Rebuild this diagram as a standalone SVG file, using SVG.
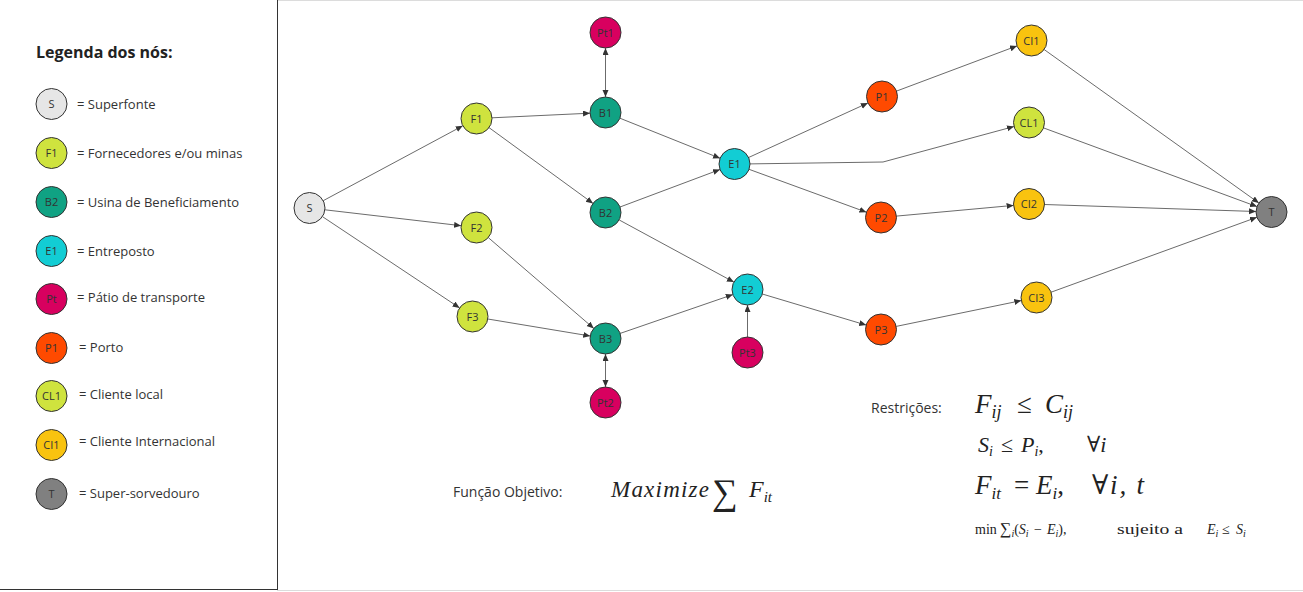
<svg xmlns="http://www.w3.org/2000/svg" width="1303" height="592" viewBox="0 0 1303 592">
<defs>
<marker id="arr" markerUnits="userSpaceOnUse" markerWidth="8" markerHeight="7" refX="7" refY="3" orient="auto-start-reverse">
<path d="M0,0 L7,3 L0,6 z" fill="#333"/>
</marker>
<style>
.n{stroke:#333;stroke-width:1}
.lb{font-family:"Open Sans","Liberation Sans",sans-serif;font-size:11px;fill:#333;text-anchor:middle}
.lg{font-family:"Open Sans","Liberation Sans",sans-serif;font-size:13px;fill:#333}
.e{fill:none;stroke:#6b6b6b;stroke-width:1;marker-end:url(#arr)}
.d{marker-start:url(#arr)}
.s{fill:#e6e6e6}.f{fill:#cfe33e}.b{fill:#10a283}.en{fill:#12cdd4}.pt{fill:#d8005f}.p{fill:#ff4a00}.ci{fill:#f9c30f}.t{fill:#808080}
.m{font-family:"Liberation Serif","DejaVu Serif",serif;font-style:italic;fill:#222}
.mr{font-family:"Liberation Serif","DejaVu Serif",serif;font-style:normal;fill:#222}
.tx{font-family:"Open Sans","Liberation Sans",sans-serif;font-size:14px;fill:#333}
</style>
</defs>
<rect width="1303" height="592" fill="#fff"/>
<line x1="277" y1="0.5" x2="1303" y2="0.5" stroke="#dcdcdc"/>
<line x1="277" y1="590.5" x2="1303" y2="590.5" stroke="#dcdcdc"/>
<line x1="277.5" y1="0" x2="277.5" y2="590" stroke="#333"/>
<line x1="0" y1="589.5" x2="277.5" y2="589.5" stroke="#333"/>

<g id="legend">
<text x="36" y="58" font-family="'Open Sans','Liberation Sans',sans-serif" font-size="16" font-weight="bold" fill="#222">Legenda dos nós:</text>
<g id="lg-S"><circle class="n s" cx="51.5" cy="104" r="15.5"/><text class="lb" x="51.5" y="108">S</text><text class="lg" x="77" y="108.5">= Superfonte</text></g>
<g id="lg-F"><circle class="n f" cx="51.5" cy="153" r="15.5"/><text class="lb" x="51.5" y="157">F1</text><text class="lg" x="77" y="157.5">= Fornecedores e/ou minas</text></g>
<g id="lg-B"><circle class="n b" cx="51.5" cy="202" r="15.5"/><text class="lb" x="51.5" y="206">B2</text><text class="lg" x="77" y="206.5">= Usina de Beneficiamento</text></g>
<g id="lg-E"><circle class="n en" cx="51.5" cy="251" r="15.5"/><text class="lb" x="51.5" y="255">E1</text><text class="lg" x="77" y="255.5">= Entreposto</text></g>
<g id="lg-Pt"><circle class="n pt" cx="51.5" cy="299" r="15.5"/><text class="lb" x="51.5" y="303" font-size="10">Pt</text><text class="lg" x="77" y="301.5">= Pátio de transporte</text></g>
<g id="lg-P"><circle class="n p" cx="51.5" cy="348" r="15.5"/><text class="lb" x="51.5" y="352">P1</text><text class="lg" x="79" y="352">= Porto</text></g>
<g id="lg-CL"><circle class="n f" cx="51.5" cy="396" r="15.5"/><text class="lb" x="51.5" y="400">CL1</text><text class="lg" x="79" y="398.5">= Cliente local</text></g>
<g id="lg-CI"><circle class="n ci" cx="51.5" cy="445" r="15.5"/><text class="lb" x="51.5" y="449">CI1</text><text class="lg" x="79" y="446">= Cliente Internacional</text></g>
<g id="lg-T"><circle class="n t" cx="51.5" cy="494" r="15.5"/><text class="lb" x="51.5" y="498">T</text><text class="lg" x="79" y="498">= Super-sorvedouro</text></g>
</g>

<g id="connectors">
<line class="e" x1="323.2" y1="200.7" x2="462.8" y2="125.8"/>
<line class="e" x1="324.9" y1="209.8" x2="461.1" y2="225.7"/>
<line class="e" x1="322.4" y1="216.6" x2="459.6" y2="307.9"/>
<line class="e" x1="492" y1="117.8" x2="590" y2="113.2"/>
<line class="e" x1="489" y1="127.6" x2="593" y2="203.4"/>
<line class="e" x1="488.3" y1="237.6" x2="593.8" y2="328.4"/>
<line class="e" x1="487.8" y1="319" x2="590.2" y2="336"/>
<line class="e d" x1="605.5" y1="48" x2="605.5" y2="97"/>
<line class="e d" x1="605.5" y1="354" x2="605.5" y2="387"/>
<line class="e" x1="619.9" y1="118.2" x2="720.1" y2="158.3"/>
<line class="e" x1="620" y1="207" x2="720" y2="169.5"/>
<line class="e" x1="619.1" y1="219.9" x2="733.9" y2="282.1"/>
<line class="e" x1="620.2" y1="333.4" x2="732.8" y2="294.6"/>
<line class="e" x1="747.5" y1="337" x2="747.5" y2="305"/>
<line class="e" x1="748.6" y1="157.5" x2="867.9" y2="103"/>
<polyline class="e" points="750,163.9 883,162 1014,126.5"/>
<line class="e" x1="749" y1="169.3" x2="866.4" y2="212.2"/>
<line class="e" x1="762.3" y1="294" x2="866.2" y2="325.1"/>
<line class="e" x1="896.5" y1="91.1" x2="1017" y2="45.9"/>
<line class="e" x1="896.4" y1="216.1" x2="1013.6" y2="205.4"/>
<line class="e" x1="896.2" y1="326.4" x2="1021.3" y2="300.6"/>
<line class="e" x1="1044.1" y1="49.5" x2="1258.9" y2="203"/>
<line class="e" x1="1043.5" y1="127.9" x2="1257" y2="206.6"/>
<line class="e" x1="1044.5" y1="204.5" x2="1256" y2="211.5"/>
<line class="e" x1="1051.1" y1="292.2" x2="1256.9" y2="217.3"/>
</g>

<g id="S"><circle class="n s" cx="309.5" cy="208" r="15.5"/><text class="lb" x="309.5" y="212">S</text></g>
<g id="F1"><circle class="n f" cx="476.5" cy="118.5" r="15.5"/><text class="lb" x="476.5" y="122.5">F1</text></g>
<g id="F2"><circle class="n f" cx="476.5" cy="227.5" r="15.5"/><text class="lb" x="476.5" y="231.5">F2</text></g>
<g id="F3"><circle class="n f" cx="472.5" cy="316.5" r="15.5"/><text class="lb" x="472.5" y="320.5">F3</text></g>
<g id="Pt1"><circle class="n pt" cx="605.5" cy="32.5" r="15.5"/><text class="lb" x="605.5" y="36.5">Pt1</text></g>
<g id="B1"><circle class="n b" cx="605.5" cy="112.5" r="15.5"/><text class="lb" x="605.5" y="116.5">B1</text></g>
<g id="B2"><circle class="n b" cx="605.5" cy="212.5" r="15.5"/><text class="lb" x="605.5" y="216.5">B2</text></g>
<g id="B3"><circle class="n b" cx="605.5" cy="338.5" r="15.5"/><text class="lb" x="605.5" y="342.5">B3</text></g>
<g id="Pt2"><circle class="n pt" cx="605.5" cy="402.5" r="15.5"/><text class="lb" x="605.5" y="406.5">Pt2</text></g>
<g id="E1"><circle class="n en" cx="734.5" cy="164" r="15.5"/><text class="lb" x="734.5" y="168">E1</text></g>
<g id="E2"><circle class="n en" cx="747.5" cy="289.5" r="15.5"/><text class="lb" x="747.5" y="293.5">E2</text></g>
<g id="Pt3"><circle class="n pt" cx="747.5" cy="352.5" r="15.5"/><text class="lb" x="747.5" y="356.5">Pt3</text></g>
<g id="P1"><circle class="n p" cx="882" cy="96.5" r="15.5"/><text class="lb" x="882" y="100.5">P1</text></g>
<g id="P2"><circle class="n p" cx="881" cy="217.5" r="15.5"/><text class="lb" x="881" y="221.5">P2</text></g>
<g id="P3"><circle class="n p" cx="881" cy="329.5" r="15.5"/><text class="lb" x="881" y="333.5">P3</text></g>
<g id="CI1"><circle class="n ci" cx="1031.5" cy="40.5" r="15.5"/><text class="lb" x="1031.5" y="44.5">CI1</text></g>
<g id="CL1"><circle class="n f" cx="1029" cy="122.5" r="15.5"/><text class="lb" x="1029" y="126.5">CL1</text></g>
<g id="CI2"><circle class="n ci" cx="1029" cy="204" r="15.5"/><text class="lb" x="1029" y="208">CI2</text></g>
<g id="CI3"><circle class="n ci" cx="1036.5" cy="297.5" r="15.5"/><text class="lb" x="1036.5" y="301.5">CI3</text></g>
<g id="T"><circle class="n t" cx="1271.5" cy="212" r="15.5"/><text class="lb" x="1271.5" y="216">T</text></g>

<g id="objective">
<text class="tx" x="453" y="497">Função Objetivo:</text>
<text class="m" x="611" y="497" font-size="23" textLength="98">Maximize</text>
<text class="mr" x="712" y="504" font-size="36">∑</text>
<text class="m" x="749" y="497" font-size="24">F<tspan font-size="15" dy="5">it</tspan></text>
</g>

<g id="constraints">
<text class="tx" x="871" y="413">Restrições:</text>
<text class="m" font-size="27" y="413"><tspan x="975">F</tspan><tspan font-size="18" dy="5">ij</tspan><tspan class="mr" x="1017" dy="-5">≤</tspan><tspan x="1045">C</tspan><tspan font-size="18" dy="5">ij</tspan></text>
<text class="m" font-size="22" y="452"><tspan x="978">S</tspan><tspan font-size="14" dy="4">i</tspan><tspan class="mr" x="1001" dy="-4">≤</tspan><tspan x="1021">P</tspan><tspan font-size="14" dy="4">i</tspan><tspan class="mr" dy="-4">,</tspan><tspan x="1087">∀i</tspan></text>
<text class="m" font-size="27" y="494"><tspan x="975">F</tspan><tspan font-size="17" dy="5">it</tspan><tspan class="mr" x="1014" dy="-5">=</tspan><tspan x="1036">E</tspan><tspan font-size="17" dy="5">i</tspan><tspan class="mr" dy="-5">,</tspan><tspan x="1092" textLength="52">∀i, t</tspan></text>
<text class="mr" font-size="14" y="534"><tspan x="975">min</tspan><tspan x="1000" font-size="16">∑</tspan><tspan class="m" font-size="10" dy="3">i</tspan><tspan dy="-3">(</tspan><tspan class="m">S</tspan><tspan class="m" font-size="10" dy="3">i</tspan><tspan x="1034" dy="-3">−</tspan><tspan class="m" x="1047">E</tspan><tspan class="m" font-size="10" dy="3">i</tspan><tspan dy="-3">),</tspan><tspan x="1117" font-size="15" textLength="66" lengthAdjust="spacingAndGlyphs">sujeito a</tspan><tspan class="m" x="1207">E</tspan><tspan class="m" font-size="10" dy="3">i</tspan><tspan x="1222" dy="-3">≤</tspan><tspan class="m" x="1236">S</tspan><tspan class="m" font-size="10" dy="3">i</tspan></text>
</g>
</svg>
